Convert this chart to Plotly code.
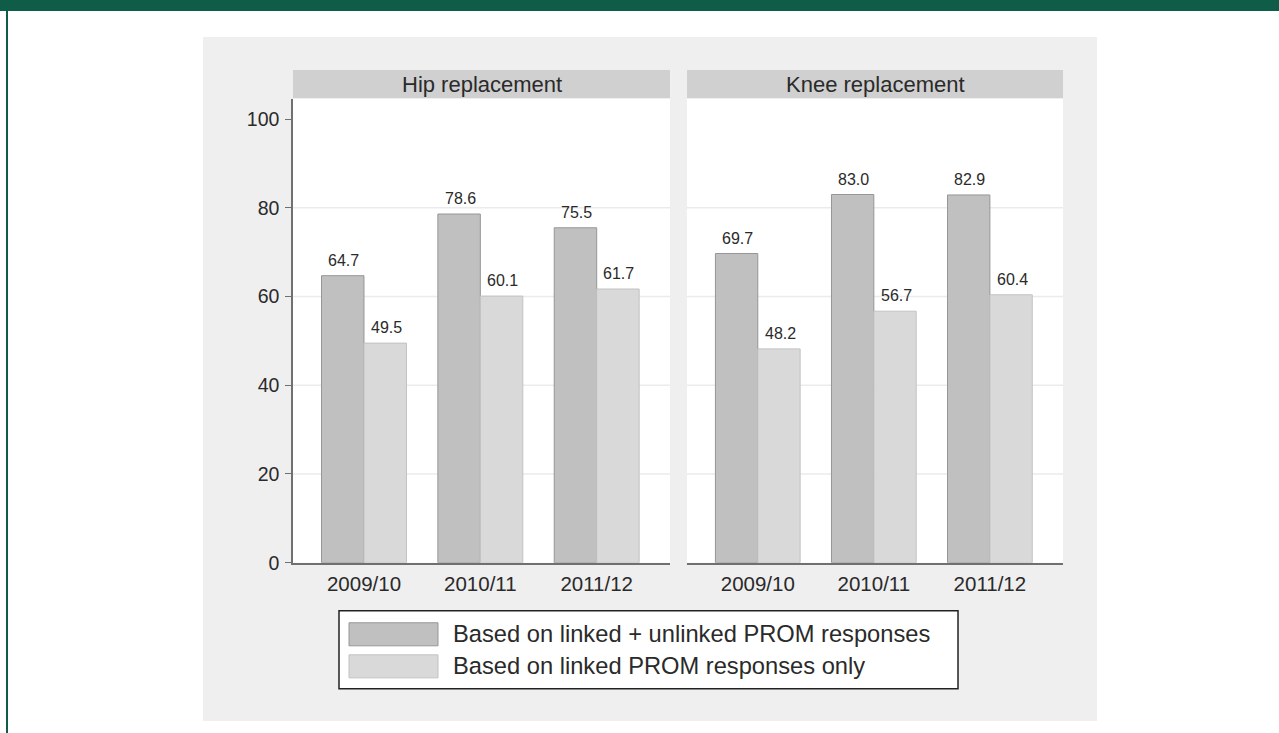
import plotly.graph_objects as go

# ---------------- data ----------------
periods = ["2009/10", "2010/11", "2011/12"]
panels = ["Hip replacement", "Knee replacement"]
series_names = ["Based on linked + unlinked PROM responses",
                "Based on linked PROM responses only"]
hip_all = [64.7, 78.6, 75.5]
hip_linked = [49.5, 60.1, 61.7]
knee_all = [69.7, 83.0, 82.9]
knee_linked = [48.2, 56.7, 60.4]
y_ticks = [0, 20, 40, 60, 80, 100]
grid_vals = [20, 40, 60, 80]

# ---------------- style ----------------
S = 0.984               # vertical compensation
W, H = 1279, 745
FONT = "Liberation Sans, Arial, sans-serif"
DARK_FILL, DARK_LINE = "#c0c0c0", "#969696"
LIGHT_FILL, LIGHT_LINE = "#d9d9d9", "#c2c2c2"
AXIS_COL = "#707070"
TXT = "#2a2a2a"
XRANGE = [-0.61, 2.63]
BARGAP = 0.27


def px(x):
    return x / W


def py(y):
    return 1 - (y / S) / H


xdom1 = [px(293), px(670)]
xdom2 = [px(687), px(1063)]
ydom = [py(562), py(99)]

fig = go.Figure()

data_sets = [(hip_all, hip_linked, "x", "y"), (knee_all, knee_linked, "x2", "y2")]
for i, (a, b, xa, ya) in enumerate(data_sets):
    fig.add_trace(go.Bar(x=periods, y=a, name=series_names[0], xaxis=xa, yaxis=ya,
                         marker=dict(color=DARK_FILL, line=dict(color=DARK_LINE, width=1)),
                         showlegend=False, offsetgroup="a"))
    fig.add_trace(go.Bar(x=periods, y=b, name=series_names[1], xaxis=xa, yaxis=ya,
                         marker=dict(color=LIGHT_FILL, line=dict(color=LIGHT_LINE, width=1)),
                         showlegend=False, offsetgroup="b"))

annotations = []
shapes = []

# background panel
shapes.append(dict(type="rect", xref="paper", yref="paper", x0=px(203), x1=px(1097),
                   y0=py(720), y1=py(37), fillcolor="#efefef", line=dict(width=0), layer="below"))
# white plot areas + strips + titles
for dom, title, xa, ya in [(xdom1, panels[0], "x", "y"), (xdom2, panels[1], "x2", "y2")]:
    shapes.append(dict(type="rect", xref="paper", yref="paper", x0=dom[0], x1=dom[1],
                       y0=ydom[0], y1=ydom[1], fillcolor="white", line=dict(width=0), layer="below"))
    shapes.append(dict(type="rect", xref="paper", yref="paper", x0=dom[0], x1=dom[1],
                       y0=py(98), y1=py(70), fillcolor="#d0d0d0", line=dict(width=0), layer="below"))
    annotations.append(dict(text=title, xref="paper", yref="paper", x=(dom[0] + dom[1]) / 2,
                            y=(py(98) + py(70)) / 2, showarrow=False, xanchor="center",
                            yanchor="middle", font=dict(family=FONT, size=22, color=TXT)))
    for g in grid_vals:
        shapes.append(dict(type="line", xref=xa + " domain", yref=ya, x0=0, x1=1, y0=g, y1=g,
                           line=dict(color="#ebebeb", width=1.5), layer="below"))

# value labels
plot_w_px = (670 - 293)
unit_px = plot_w_px / (XRANGE[1] - XRANGE[0])
bar_w_px = unit_px * (1 - BARGAP) / 2
for a, b, xa, ya in data_sets:
    for k, p in enumerate(periods):
        for vals, sgn in [(a, -1), (b, 1)]:
            annotations.append(dict(text=f"{vals[k]:.1f}", x=p, y=vals[k], xref=xa, yref=ya,
                                    showarrow=False, xanchor="center", yanchor="bottom",
                                    xshift=sgn * bar_w_px / 2 + 1, yshift=5,
                                    font=dict(family=FONT, size=16, color=TXT)))

# legend (drawn)
shapes.append(dict(type="rect", xref="paper", yref="paper", x0=px(339), x1=px(958),
                   y0=py(688), y1=py(610), fillcolor="white", line=dict(color="#222", width=1.5),
                   layer="above"))
for j, (fill, ln, y0, y1) in enumerate([(DARK_FILL, DARK_LINE, 622, 645),
                                        (LIGHT_FILL, LIGHT_LINE, 654, 677)]):
    shapes.append(dict(type="rect", xref="paper", yref="paper", x0=px(349), x1=px(438),
                       y0=py(y1), y1=py(y0), fillcolor=fill, line=dict(color=ln, width=1),
                       layer="above"))
    annotations.append(dict(text=series_names[j], xref="paper", yref="paper", x=px(451),
                            y=py((y0 + y1) / 2), showarrow=False, xanchor="left", yanchor="middle",
                            font=dict(family=FONT, size=23.7, color=TXT)))

# frame decorations
shapes.append(dict(type="rect", xref="paper", yref="paper", x0=0, x1=1, y0=py(11), y1=1,
                   fillcolor="#0f5c48", line=dict(width=0), layer="above"))
shapes.append(dict(type="rect", xref="paper", yref="paper", x0=px(6), x1=px(8), y0=0, y1=1,
                   fillcolor="#0f5c48", line=dict(width=0), layer="above"))

xcommon = dict(type="category", range=XRANGE, showgrid=False, showline=True, linecolor=AXIS_COL,
               linewidth=1.5, ticks="", ticklabelstandoff=2, zeroline=False,
               tickfont=dict(family=FONT, size=20.5, color=TXT))
ycommon = dict(range=[0, 104.5], domain=ydom, showgrid=False, zeroline=False)

fig.update_layout(
    width=W, height=H, margin=dict(l=0, r=0, t=0, b=0),
    paper_bgcolor="white", plot_bgcolor="rgba(0,0,0,0)",
    barmode="group", bargap=BARGAP, bargroupgap=0,
    showlegend=False,
    xaxis=dict(domain=xdom1, anchor="y", **xcommon),
    xaxis2=dict(domain=xdom2, anchor="y2", **xcommon),
    yaxis=dict(anchor="x", tickvals=y_ticks, ticks="outside", ticklen=6, tickcolor=AXIS_COL,
               showline=True, linecolor=AXIS_COL, linewidth=1.5, ticklabelstandoff=2,
               tickfont=dict(family=FONT, size=19.5, color=TXT), **ycommon),
    yaxis2=dict(anchor="x2", showticklabels=False, ticks="", showline=False, **ycommon),
    shapes=shapes, annotations=annotations,
)

fig.write_html("out.html")
